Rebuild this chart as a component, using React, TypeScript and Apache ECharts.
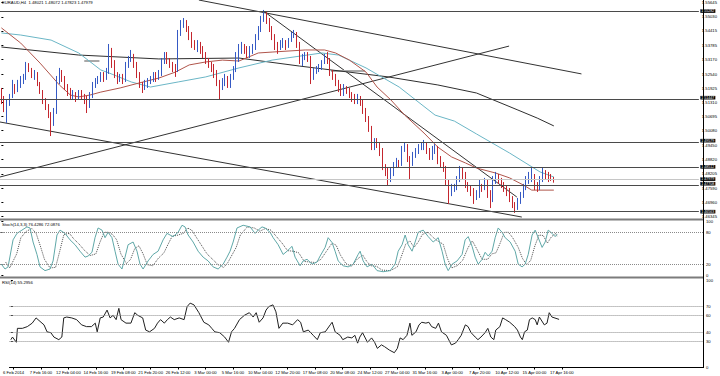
import React, { useEffect, useRef } from "react";
import * as echarts from "echarts";

// ---------- data ----------
const chartTitle = "EURAUD,H4  1.48021 1.48072 1.47823 1.47979";
const stochTitle = "Stoch(14,3,3) 76.4286 72.0876";
const rsiTitle = "RSI(14) 55.2956";

const timeLabels = [
  "6 Feb 2014", "7 Feb 16:00", "12 Feb 04:00", "14 Feb 16:00", "19 Feb 08:00",
  "21 Feb 20:00", "26 Feb 12:00", "3 Mar 00:00", "5 Mar 16:00", "10 Mar 04:00",
  "12 Mar 20:00", "17 Mar 08:00", "20 Mar 08:00", "24 Mar 12:00", "27 Mar 04:00",
  "31 Mar 16:00", "3 Apr 00:00", "7 Apr 20:00", "10 Apr 12:00", "15 Apr 00:00",
  "17 Apr 16:00",
];

const priceTicks = [
  1.46345, 1.4696, 1.4759, 1.48205, 1.4882, 1.4945, 1.5008, 1.50695,
  1.5131, 1.51925, 1.5254, 1.5317, 1.53785, 1.54415, 1.5503, 1.55645,
];
const levelPrices = [1.55282, 1.51447, 1.49579, 1.48512, 1.47708, 1.46563];
const bidPrice = 1.47979;

const opens = [
  1.5176,1.5142,1.5107,1.5124,1.5159,1.5202,1.5185,1.5211,1.5229,1.5237,
  1.5289,1.5272,1.5246,1.5255,1.5211,1.5176,1.5142,1.5116,1.5081,1.5046,
  1.5089,1.5229,1.5263,1.5237,1.5202,1.5176,1.5159,1.5168,1.5150,1.5168,
  1.5159,1.5142,1.5116,1.5159,1.5202,1.5220,1.5229,1.5246,1.5237,1.5263,
  1.5359,1.5298,1.5255,1.5229,1.5237,1.5229,1.5289,1.5315,1.5333,1.5298,
  1.5255,1.5202,1.5194,1.5211,1.5220,1.5229,1.5246,1.5237,1.5255,1.5307,
  1.5333,1.5315,1.5298,1.5281,1.5272,1.5428,1.5472,1.5481,1.5455,1.5420,
  1.5385,1.5376,1.5385,1.5368,1.5342,1.5315,1.5298,1.5281,1.5263,1.5220,
  1.5194,1.5220,1.5229,1.5211,1.5237,1.5272,1.5315,1.5359,1.5376,1.5359,
  1.5342,1.5350,1.5368,1.5411,1.5446,1.5489,1.5515,1.5489,1.5455,1.5420,
  1.5376,1.5368,1.5385,1.5394,1.5376,1.5394,1.5420,1.5428,1.5385,1.5315,
  1.5324,1.5333,1.5324,1.5246,1.5263,1.5272,1.5281,1.5298,1.5324,1.5315,
  1.5263,1.5246,1.5220,1.5194,1.5176,1.5194,1.5185,1.5168,1.5150,1.5142,
  1.5150,1.5133,1.5098,1.5063,1.5020,1.4942,1.4959,1.4950,1.4924,1.4855,
  1.4837,1.4803,1.4820,1.4855,1.4872,1.4863,1.4924,1.4942,1.4890,1.4863,
  1.4898,1.4916,1.4933,1.4942,1.4950,1.4924,1.4898,1.4924,1.4933,1.4890,
  1.4863,1.4846,1.4785,1.4742,1.4759,1.4768,1.4794,1.4829,1.4811,1.4777,
  1.4759,1.4742,1.4716,1.4733,1.4768,1.4759,1.4785,1.4733,1.4707,1.4785,
  1.4811,1.4794,1.4777,1.4759,1.4742,1.4716,1.4690,1.4672,1.4698,1.4724,
  1.4759,1.4785,1.4803,1.4811,1.4768,1.4759,1.4794,1.4820,1.4811,1.4803,
  1.48021,
];
const closes = [
  1.5142,1.5107,1.5124,1.5159,1.5202,1.5185,1.5211,1.5229,1.5237,1.5289,
  1.5272,1.5246,1.5255,1.5211,1.5176,1.5142,1.5116,1.5081,1.5046,1.5089,
  1.5229,1.5263,1.5237,1.5202,1.5176,1.5159,1.5168,1.5150,1.5168,1.5159,
  1.5142,1.5116,1.5159,1.5202,1.5220,1.5229,1.5246,1.5237,1.5263,1.5359,
  1.5298,1.5255,1.5229,1.5237,1.5229,1.5289,1.5315,1.5333,1.5298,1.5255,
  1.5202,1.5194,1.5211,1.5220,1.5229,1.5246,1.5237,1.5255,1.5307,1.5333,
  1.5315,1.5298,1.5281,1.5272,1.5428,1.5472,1.5481,1.5455,1.5420,1.5385,
  1.5376,1.5385,1.5368,1.5342,1.5315,1.5298,1.5281,1.5263,1.5220,1.5194,
  1.5220,1.5229,1.5211,1.5237,1.5272,1.5315,1.5359,1.5376,1.5359,1.5342,
  1.5350,1.5368,1.5411,1.5446,1.5489,1.5515,1.5489,1.5455,1.5420,1.5376,
  1.5368,1.5385,1.5394,1.5376,1.5394,1.5420,1.5428,1.5385,1.5315,1.5324,
  1.5333,1.5324,1.5246,1.5263,1.5272,1.5281,1.5298,1.5324,1.5315,1.5263,
  1.5246,1.5220,1.5194,1.5176,1.5194,1.5185,1.5168,1.5150,1.5142,1.5150,
  1.5133,1.5098,1.5063,1.5020,1.4942,1.4959,1.4950,1.4924,1.4855,1.4837,
  1.4803,1.4820,1.4855,1.4872,1.4863,1.4924,1.4942,1.4890,1.4863,1.4898,
  1.4916,1.4933,1.4942,1.4950,1.4924,1.4898,1.4924,1.4933,1.4890,1.4863,
  1.4846,1.4785,1.4742,1.4759,1.4768,1.4794,1.4829,1.4811,1.4777,1.4759,
  1.4742,1.4716,1.4733,1.4768,1.4759,1.4785,1.4733,1.4707,1.4785,1.4811,
  1.4794,1.4777,1.4759,1.4742,1.4716,1.4690,1.4672,1.4698,1.4724,1.4759,
  1.4785,1.4803,1.4811,1.4768,1.4759,1.4794,1.4820,1.4811,1.4803,1.48021,
  1.47979,
];
const highs = [
  1.5194,1.5159,1.5142,1.5168,1.5229,1.5211,1.5229,1.5246,1.5255,1.5307,
  1.5302,1.5281,1.5272,1.5263,1.5220,1.5185,1.5150,1.5124,1.5089,1.5107,
  1.5246,1.5281,1.5272,1.5246,1.5211,1.5194,1.5185,1.5176,1.5185,1.5185,
  1.5168,1.5159,1.5176,1.5220,1.5237,1.5246,1.5263,1.5263,1.5281,1.5385,
  1.5368,1.5315,1.5263,1.5255,1.5255,1.5307,1.5333,1.5359,1.5342,1.5307,
  1.5263,1.5220,1.5229,1.5237,1.5246,1.5263,1.5263,1.5272,1.5324,1.5350,
  1.5350,1.5324,1.5307,1.5298,1.5446,1.5489,1.5498,1.5489,1.5463,1.5437,
  1.5402,1.5402,1.5394,1.5376,1.5350,1.5324,1.5307,1.5298,1.5272,1.5229,
  1.5237,1.5255,1.5246,1.5255,1.5289,1.5350,1.5385,1.5394,1.5385,1.5376,
  1.5376,1.5385,1.5428,1.5463,1.5507,1.5533,1.5524,1.5498,1.5463,1.5428,
  1.5394,1.5402,1.5411,1.5402,1.5411,1.5437,1.5446,1.5437,1.5394,1.5342,
  1.5350,1.5350,1.5333,1.5281,1.5289,1.5298,1.5315,1.5342,1.5350,1.5324,
  1.5272,1.5255,1.5229,1.5211,1.5211,1.5202,1.5194,1.5176,1.5168,1.5168,
  1.5159,1.5142,1.5107,1.5072,1.5029,1.4976,1.4976,1.4959,1.4933,1.4863,
  1.4846,1.4846,1.4872,1.4890,1.4881,1.4942,1.4959,1.4950,1.4898,1.4916,
  1.4933,1.4950,1.4959,1.4968,1.4959,1.4933,1.4942,1.4950,1.4942,1.4898,
  1.4872,1.4855,1.4794,1.4777,1.4777,1.4811,1.4855,1.4846,1.4829,1.4785,
  1.4768,1.4759,1.4750,1.4794,1.4777,1.4803,1.4794,1.4750,1.4811,1.4829,
  1.4820,1.4803,1.4785,1.4768,1.4759,1.4724,1.4698,1.4716,1.4742,1.4777,
  1.4811,1.4829,1.4846,1.4820,1.4785,1.4811,1.4846,1.4837,1.4829,1.4820,
  1.48072,
];
const lows = [
  1.5124,1.5089,1.5042,1.5116,1.5150,1.5168,1.5176,1.5194,1.5211,1.5229,
  1.5263,1.5237,1.5229,1.5202,1.5168,1.5124,1.5098,1.5063,1.4985,1.5029,
  1.5081,1.5211,1.5220,1.5185,1.5159,1.5142,1.5142,1.5133,1.5142,1.5142,
  1.5124,1.5085,1.5107,1.5150,1.5194,1.5211,1.5220,1.5220,1.5229,1.5255,
  1.5281,1.5237,1.5211,1.5220,1.5211,1.5220,1.5281,1.5307,1.5281,1.5237,
  1.5194,1.5172,1.5185,1.5194,1.5211,1.5220,1.5220,1.5229,1.5246,1.5298,
  1.5298,1.5281,1.5263,1.5242,1.5263,1.5420,1.5455,1.5437,1.5402,1.5368,
  1.5359,1.5350,1.5342,1.5324,1.5298,1.5281,1.5263,1.5237,1.5202,1.5142,
  1.5185,1.5202,1.5194,1.5194,1.5229,1.5263,1.5307,1.5342,1.5342,1.5324,
  1.5324,1.5342,1.5359,1.5402,1.5437,1.5481,1.5472,1.5437,1.5402,1.5359,
  1.5342,1.5359,1.5368,1.5359,1.5368,1.5394,1.5411,1.5368,1.5298,1.5289,
  1.5315,1.5307,1.5211,1.5229,1.5255,1.5263,1.5272,1.5298,1.5298,1.5246,
  1.5229,1.5202,1.5176,1.5159,1.5159,1.5168,1.5150,1.5133,1.5124,1.5124,
  1.5116,1.5081,1.5046,1.5003,1.4924,1.4924,1.4933,1.4898,1.4837,1.4811,
  1.4768,1.4785,1.4811,1.4846,1.4846,1.4855,1.4916,1.4872,1.4794,1.4855,
  1.4890,1.4907,1.4924,1.4924,1.4907,1.4881,1.4881,1.4907,1.4863,1.4846,
  1.4829,1.4768,1.4690,1.4724,1.4742,1.4750,1.4785,1.4794,1.4759,1.4742,
  1.4724,1.4690,1.4707,1.4716,1.4742,1.4750,1.4716,1.4672,1.4698,1.4777,
  1.4777,1.4759,1.4742,1.4724,1.4698,1.4672,1.4651,1.4664,1.4690,1.4716,
  1.4750,1.4777,1.4785,1.4750,1.4742,1.4750,1.4785,1.4794,1.4785,1.4790,
  1.47823,
];

// moving averages: [bar index, price]
const redMA = [
  [0,1.5455],[7,1.5389],[14,1.5302],[21,1.5207],[25,1.5163],[28,1.5155],[32,1.5163],
  [36,1.5176],[43,1.5194],[50,1.5216],[57,1.5237],[63,1.5263],[68,1.5294],[74,1.5307],
  [80,1.5315],[86,1.5311],[93,1.5346],[98,1.5350],[110,1.5359],[117,1.5359],[121,1.5346],
  [126,1.5315],[132,1.5263],[136,1.5198],[141,1.5142],[146,1.5076],[153,1.4998],[158,1.4937],
  [163,1.4894],[168,1.4868],[172,1.4846],[179,1.4824],[184,1.4803],[189,1.4772],[192,1.4750],
  [200,1.4750],
];
const tealMA = [
  [0,1.5433],[7,1.5424],[18,1.5402],[28,1.5346],[36,1.5272],[39,1.5259],[47,1.5220],
  [54,1.5198],[64,1.5220],[74,1.5242],[86,1.5281],[98,1.5315],[116,1.5346],[122,1.5337],
  [132,1.5281],[144,1.5198],[157,1.5076],[164,1.5050],[172,1.4994],[184,1.4911],
  [195,1.4829],[200,1.4807],
];
const blackMA = [
  [0,1.5372],[28,1.5337],[57,1.5320],[86,1.5324],[108,1.5289],[140,1.5242],[158,1.5207],
  [172,1.5172],[187,1.5098],[194,1.5063],[200,1.5029],
];

// trend lines: [[barIndex, price], [barIndex, price]]
const trendLines = [
  [[71.5, 1.5576], [210, 1.5255]],
  [[94.9, 1.5528], [186.6, 1.472]],
  [[-0.5, 1.5046], [188.4, 1.4633]],
  [[-0.5, 1.4807], [183.8, 1.5376]],
];
const grayMarks = [
  [[30, 1.5311], [35.5, 1.5311]],
  [[119.3, 1.5268], [131.6, 1.5268]],
];

const stochMain = [
  [0,21],[1.3,12],[2.4,16],[4.2,66],[5.6,78],[7.4,84],[9.2,90],[10.3,88],[11.4,62],[12.8,39],
  [13.9,16],[15.7,9],[17.5,12],[18.6,27],[20,75],[21.1,84],[22.9,78],[24.7,66],[26.5,57],
  [28.3,45],[30.1,34],[31.2,36],[32.6,43],[33.7,70],[34.8,88],[36.2,84],[37.3,70],[38.4,80],
  [39.8,70],[40.9,45],[42,21],[43.4,12],[44.5,34],[45.6,57],[47.4,62],[48.8,45],[49.9,21],
  [51,12],[52.8,27],[54.6,39],[56.4,45],[58.2,66],[59.6,78],[60.7,75],[61.8,72],[63.6,80],
  [65,93],[66.1,90],[67.2,75],[69,62],[70.8,45],[72.6,34],[74.4,27],[76.2,16],[78,12],
  [79.8,21],[81.2,34],[82.3,45],[83.4,62],[84.8,88],[87,93],[89.5,90],[91.3,78],[92.4,84],
  [93.8,90],[94.9,88],[96.7,80],[97.8,70],[99.6,57],[101.4,39],[102.8,45],[104.6,54],
  [105.7,34],[107.5,18],[108.6,27],[110,30],[111.8,21],[113.6,25],[114.7,36],[116.5,52],
  [117.6,70],[119,61],[120.1,45],[121.2,27],[123,18],[124.8,16],[126.6,21],[128.4,39],
  [129.1,45],[130.2,27],[131.6,16],[133.4,21],[135.2,9],[137.4,7],[139.9,9],[141.7,21],
  [142.8,45],[144.2,57],[145.3,75],[146.4,57],[147.8,45],[148.9,62],[150,80],[151.8,84],
  [153.6,72],[155.4,62],[157.2,70],[158.6,45],[159.7,21],[160.8,9],[162.2,21],[164,27],
  [165.8,39],[166.9,66],[168,72],[169.4,54],[170.5,34],[171.6,21],[173,30],[174.1,43],
  [175.2,36],[176.6,45],[177.7,70],[178.8,88],[180.2,80],[181.3,70],[183.1,62],[184.9,45],
  [186,21],[187.4,16],[188.5,21],[189.6,39],[191,75],[192.1,84],[193.2,70],[194.6,52],
  [195.7,62],[196.8,84],[198.2,78],[199.3,72],[200,76.43],
];
const stochSignal = [
  [1.5,25],[3,14],[5.5,40],[7,70],[9,82],[11,87],[12.5,78],[14,55],[15.5,30],[17.5,14],
  [19.5,15],[21,45],[22.5,76],[24.5,78],[26,68],[28,58],[30,46],[32,37],[34,40],[35.5,62],
  [37,80],[38.5,80],[40,76],[41.5,66],[43,40],[45,22],[46.5,30],[48,50],[49.5,55],[51,40],
  [52.5,20],[54.5,18],[56.5,32],[58.5,42],[60,58],[61.5,73],[63,74],[65.5,78],[67,88],
  [68.5,84],[70.5,68],[72.5,52],[74,40],[76,30],[78,20],[80,15],[81.5,24],[83,38],[84.5,52],
  [86,75],[88.5,90],[91,88],[93,82],[95,87],[97,84],[99,72],[101,60],[103,46],[105,45],
  [107,42],[109,26],[111,25],[113,24],[115,30],[117,45],[119,60],[120.5,56],[122,38],
  [124,22],[126,17],[128,30],[130,38],[131.5,26],[133,18],[135,17],[137,10],[140,9],
  [142.5,16],[144,36],[145.5,58],[147,64],[148.5,52],[150,62],[151.5,76],[153.5,80],
  [155.5,70],[157,64],[159,58],[160.5,32],[162,14],[164,18],[166,28],[168,52],[169.5,64],
  [171,50],[173,30],[175,30],[176.5,40],[178,42],[179.5,60],[181,80],[182.5,80],[184,70],
  [186,52],[187.5,32],[189,20],[190.5,28],[192,55],[193.5,75],[195,74],[196.5,60],[198,72],
  [199.5,78],[200,72.09],
];
const rsiValues = [
  [0,32],[0.6,35],[2,29],[2.4,45],[4.2,45],[6,47],[7.8,51],[9.2,57],[11,52],[12.1,49],
  [13.2,41],[14.6,40],[15.7,35],[17.5,32],[18.6,35],[19.3,57],[20.4,58],[22.2,57],[24,55],
  [25.8,49],[27.6,47],[29.4,47],[30.8,51],[31.5,41],[32.6,57],[33.7,58],[35.1,66],[36.2,57],
  [37.3,60],[38.4,55],[39.4,68],[40.2,55],[42,51],[43.8,51],[45.2,63],[46.3,60],[48.1,57],
  [49.2,43],[50.6,41],[52.4,45],[53.5,51],[54.6,55],[56,51],[57.1,55],[58.2,58],[59.6,55],
  [61.4,57],[63.2,55],[64.3,70],[65.4,74],[66.8,72],[68.6,63],[70.4,52],[72.2,49],[73.3,45],
  [74.4,41],[76.2,40],[78,35],[79.4,29],[80.5,41],[81.6,45],[83.4,55],[85.2,60],[87,63],
  [88.4,58],[89.5,63],[90.6,52],[92,57],[93.1,66],[94.1,70],[95.6,72],[96.7,64],[97.8,45],
  [99.2,51],[101,51],[102.8,49],[104.6,55],[105.7,52],[106.7,41],[108.5,43],[110.3,37],
  [111.8,32],[112.9,40],[114.7,41],[116.5,49],[117.2,52],[118.3,41],[120.1,37],[121.1,32],
  [122.9,35],[124.4,34],[125.5,37],[126.5,28],[127.3,35],[128.3,40],[130.1,29],[131.6,34],
  [132.7,29],[133.7,22],[135.2,26],[136.3,24],[138.1,20],[139.9,17],[141,22],[142,34],
  [143.1,32],[144.5,37],[145.6,51],[146.3,37],[147.8,41],[148.9,49],[149.9,52],[151.4,51],
  [152.5,52],[153.5,47],[155,45],[156,51],[157.1,41],[158.9,37],[160.7,26],[162.2,28],
  [163.2,32],[164.3,37],[165.8,49],[166.8,47],[167.9,40],[169.4,35],[170.4,32],[171.5,35],
  [173,40],[174,45],[175.1,35],[176.2,32],[176.9,43],[178.4,47],[179.4,57],[180.5,55],
  [182,52],[183.8,47],[184.8,43],[185.9,35],[186.6,32],[187.4,41],[188.4,43],[189.2,55],
  [190.2,57],[191.3,55],[192,49],[192.8,58],[194.6,49],[195.6,51],[196.4,63],[197.4,58],
  [200,55.3],
];

const stochLevels = [80, 20];
const stochTicks = [0, 20, 80, 100];
const rsiLevels = [70, 60, 40, 30];
const rsiTicks = [0, 30, 40, 60, 70, 100];

// ---------- layout ----------
const SLOTS = 253;
const PLOT_RIGHT = 17;
const FONT = "Liberation Sans";
const FS = 4.2;
// vertical nudge (px) of price boxes that sit right next to a tick label
const BOX_NUDGE = [0, -1.6, -1.6, 0, -1.6, 0];

export default function App() {
  const ref = useRef<HTMLDivElement>(null);

  useEffect(() => {
    if (!ref.current) return;
    const chart = echarts.init(ref.current, null, { renderer: "svg" });

    const cats = Array.from({ length: SLOTS }, (_, i) => String(i));
    const candles = closes.map((c, i) => [opens[i], c, lows[i], highs[i]]);
    const labelSlots = timeLabels.map((_, k) => 1 + 10 * k);
    const labelBySlot: Record<number, string> = {};
    labelSlots.forEach((s, k) => (labelBySlot[s] = timeLabels[k]));

    const txt = { fontSize: FS, color: "#000", fontFamily: FONT };
    const lineSeries = (data: any, color: string, xi: number, yi: number, extra: any = {}) => ({
      type: "line",
      xAxisIndex: xi,
      yAxisIndex: yi,
      data,
      symbol: "none",
      silent: true,
      lineStyle: { color, width: 1, ...(extra.lineStyle || {}) },
      z: extra.z || 3,
      ...(extra.markLine ? { markLine: extra.markLine } : {}),
    });
    const levelMark = (levels: number[]) => ({
      silent: true,
      symbol: "none",
      label: { show: false },
      lineStyle: { color: "#8a8a8a", type: "dotted", width: 1 },
      data: levels.map((v) => ({ yAxis: v })),
    });
    const boxLabel = (dy: number) => ({
      show: true,
      position: "end",
      distance: 1.5,
      offset: [0, dy],
      formatter: (p: any) => Number(p.value).toFixed(5),
      backgroundColor: "#000",
      color: "#fff",
      fontSize: 3.6,
      lineHeight: 3.6,
      fontFamily: FONT,
      padding: [0, 1],
    });

    const option: any = {
      animation: false,
      backgroundColor: "#fff",
      title: [
        { text: chartTitle, left: 2, top: 0.5, padding: 0, textStyle: { ...txt, fontWeight: "normal" } },
        { text: stochTitle, left: 2, top: 222.5, padding: 0, textStyle: { ...txt, fontWeight: "normal" } },
        { text: rsiTitle, left: 2, top: 280.5, padding: 0, textStyle: { ...txt, fontWeight: "normal" } },
      ],
      grid: [
        { left: 0, right: PLOT_RIGHT, top: 0, height: 218 },
        { left: 0, right: PLOT_RIGHT, top: 221.5, height: 54 },
        { left: 0, right: PLOT_RIGHT, top: 280.5, height: 87 },
      ],
      xAxis: [
        { type: "category", gridIndex: 0, data: cats, boundaryGap: true, show: false },
        { type: "value", gridIndex: 0, min: -0.5, max: SLOTS - 0.5, show: false },
        { type: "value", gridIndex: 1, min: -0.5, max: SLOTS - 0.5, show: false },
        {
          type: "value",
          gridIndex: 2,
          min: -0.5,
          max: SLOTS - 0.5,
          splitLine: { show: false },
          axisLine: { show: true, lineStyle: { color: "#000", width: 1 } },
          axisTick: { show: true, length: 2, customValues: labelSlots, lineStyle: { color: "#000" } },
          axisLabel: {
            ...txt,
            margin: 3,
            customValues: labelSlots,
            formatter: (v: number) => labelBySlot[Math.round(v)] || "",
          },
        },
      ],
      yAxis: [
        {
          type: "value",
          gridIndex: 0,
          position: "right",
          min: 1.46288,
          max: 1.55762,
          splitLine: { show: false },
          axisLine: { show: false },
          axisTick: { show: true, length: 2, customValues: priceTicks, lineStyle: { color: "#000" } },
          axisLabel: { ...txt, lineHeight: 4, margin: 3, customValues: priceTicks, formatter: (v: number) => v.toFixed(5) },
        },
        {
          type: "value",
          gridIndex: 1,
          position: "right",
          min: 0,
          max: 100,
          splitLine: { show: false },
          axisLine: { show: false },
          axisTick: { show: true, length: 2, customValues: stochTicks, lineStyle: { color: "#000" } },
          axisLabel: { ...txt, lineHeight: 4, margin: 3, customValues: stochTicks },
        },
        {
          type: "value",
          gridIndex: 2,
          position: "right",
          min: 0,
          max: 100,
          splitLine: { show: false },
          axisLine: { show: false },
          axisTick: { show: true, length: 2, customValues: rsiTicks, lineStyle: { color: "#000" } },
          axisLabel: { ...txt, lineHeight: 4, margin: 3, customValues: rsiTicks },
        },
      ],
      graphic: [
        { type: "rect", shape: { x: 0, y: 218.5, width: 703, height: 2 }, style: { fill: "#7c7c7c" }, z: 10 },
        { type: "rect", shape: { x: 0, y: 276.5, width: 703, height: 2 }, style: { fill: "#7c7c7c" }, z: 10 },
        { type: "line", shape: { x1: 703.5, y1: 0, x2: 703.5, y2: 368 }, style: { stroke: "#000", lineWidth: 1 }, z: 10 },
      ],
      series: [
        {
          type: "candlestick",
          xAxisIndex: 0,
          yAxisIndex: 0,
          data: candles,
          barWidth: 1.3,
          z: 4,
          itemStyle: {
            color: "#3559c4",
            color0: "#c4262e",
            borderColor: "#3559c4",
            borderColor0: "#c4262e",
            borderWidth: 1,
          },
          markLine: {
            silent: true,
            symbol: "none",
            precision: 5,
            z: 6,
            data: [
              ...levelPrices.map((v, i) => ({
                yAxis: v,
                lineStyle: { color: "#4a4a4a", width: 1, type: "solid" },
                label: boxLabel(BOX_NUDGE[i]),
              })),
              { yAxis: bidPrice, lineStyle: { color: "#c6c6c6", width: 1, type: "solid" }, label: boxLabel(0) },
            ],
          },
        },
        lineSeries(blackMA, "#2e2e2e", 1, 0, { z: 3 }),
        lineSeries(tealMA, "#6bb6c6", 1, 0, { z: 3 }),
        lineSeries(redMA, "#b0554b", 1, 0, { z: 3 }),
        ...trendLines.map((l) => lineSeries(l, "#333333", 1, 0, { z: 2 })),
        ...grayMarks.map((l) => lineSeries(l, "#a8a8a8", 1, 0, { z: 2, lineStyle: { width: 2 } })),
        lineSeries(stochMain, "#5fa8a8", 2, 1, { z: 4, markLine: levelMark(stochLevels) }),
        lineSeries(stochSignal, "#505050", 2, 1, { z: 3, lineStyle: { type: "dotted" } }),
        lineSeries(rsiValues, "#202020", 3, 2, { z: 4, markLine: levelMark(rsiLevels) }),
      ],
    };

    chart.setOption(option);
    return () => chart.dispose();
  }, []);

  return (
    <div
      ref={ref}
      style={{ position: "fixed", left: 0, top: 0, width: 720, height: 376, background: "#fff" }}
    />
  );
}
